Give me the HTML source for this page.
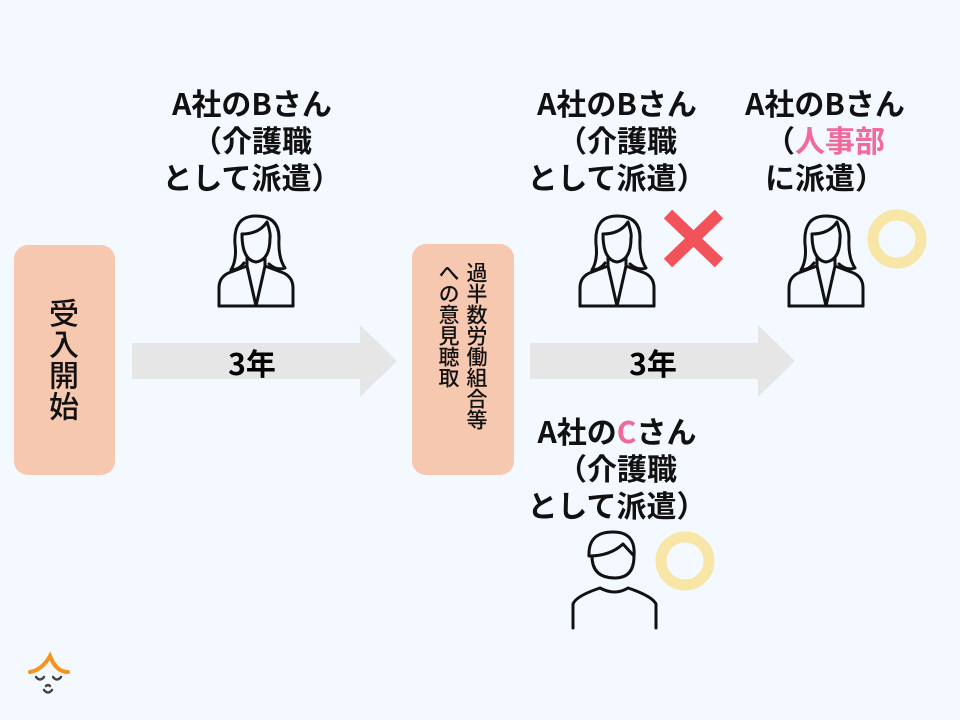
<!DOCTYPE html>
<html><head><meta charset="utf-8"><style>
body{margin:0;width:960px;height:720px;background:#f3f9fe;position:relative;overflow:hidden;font-family:"Noto Sans CJK JP",sans-serif;}
.lbl{position:absolute;text-align:center;font-size:30px;font-weight:700;line-height:37px;color:#111;white-space:nowrap;font-family:"Noto Sans CJK JP",sans-serif;}
.pk{color:#f06a9b}
.box{position:absolute;background:#f7c8b0;border-radius:14px;}
.v{position:absolute;writing-mode:vertical-rl;font-family:"Noto Sans CJK JP",sans-serif;color:#111;font-weight:500;white-space:nowrap;}
.n{position:absolute;font-size:30px;font-weight:700;font-family:"Noto Sans CJK JP",sans-serif;transform:translate(-50%,-50%);}
</style></head><body>
<svg width="960" height="720" style="position:absolute;left:0;top:0">
<polygon points="132,343 360,343 360,325 397,361 360,397 360,379 132,379" fill="#e6e6e6"/>
<polygon points="530,343 758,343 758,325 795,361 758,397 758,379 530,379" fill="#e6e6e6"/>
<defs>
<g id="w" fill="none" stroke="#111" stroke-width="3" stroke-linejoin="round" stroke-linecap="round">
<path d="M2,98 L2,80 Q2,68 14,64 L30,58 L39,98"/>
<path d="M76,98 L76,80 Q76,68 64,64 L48,58 L39,98"/>
<path d="M2,98 L76,98"/>
<path d="M30,50 L30,58 M48,50 L48,58"/>
<path d="M25,26 Q25,52 39,54 Q53,52 53,30"/>
<path d="M25,26 Q42,26 50,14 Q54,26 53,30"/>
<path d="M14,62 Q20,52 18,36 Q16,8 39,8 Q62,8 62,30 Q61,50 68,60 Q60,63 52,56"/>
<path d="M14,62 Q22,62 27,55"/>
</g>
</defs>
<use href="#w" x="217" y="208"/>
<use href="#w" x="578" y="208"/>
<use href="#w" x="787" y="208"/>
<g stroke="#f2535a" stroke-width="12" stroke-linecap="butt"><line x1="668" y1="214" x2="719" y2="263"/><line x1="719" y1="214" x2="668" y2="263"/></g>
<circle cx="897" cy="239" r="24" fill="none" stroke="#f7e6a6" stroke-width="11"/>
<circle cx="685" cy="561" r="24" fill="none" stroke="#f7e6a6" stroke-width="11"/>
<g fill="none" stroke="#111" stroke-width="3" stroke-linejoin="round" stroke-linecap="round">
<path d="M592,556 Q592,578 615,578 Q634,578 634,556"/>
<path d="M589,556 Q588,532 613,532 Q636,532 634,556 L623,544 Q610,556 589,556"/>
<path d="M573,628 L573,604 Q576,596 600,588 Q615,596 628,588 Q652,596 656,604 L656,628"/>
</g>
<g fill="none" stroke-linecap="round">
<path d="M30,672 Q42,670 50,656 Q56,672 68,672" stroke="#f7931e" stroke-width="4"/>
<path d="M36,677 Q40,682 44,677 M53,677 Q57,682 61,677 M44,690 Q48,695 52,690 M46,686 Q48,684 50,686" stroke="#444" stroke-width="2.5"/>
</g>
</svg>
<div class="box" style="left:14px;top:245px;width:101px;height:230px"></div>
<div class="box" style="left:412px;top:244px;width:102px;height:231px"></div>
<div class="v" style="left:47px;top:298px;font-size:30px;line-height:34px;letter-spacing:1px">受入開始</div>
<div class="v" style="left:464px;top:262px;font-size:21px;line-height:26px">過半数労働組合等</div>
<div class="v" style="left:436px;top:262px;font-size:21px;line-height:26px">への意見聴取</div>
<div class="lbl" style="left:132px;top:84px;width:240px">A社のBさん<br>（介護職<br>として派遣）</div>
<div class="lbl" style="left:497px;top:84px;width:240px">A社のBさん<br>（介護職<br>として派遣）</div>
<div class="lbl" style="left:705px;top:84px;width:240px">A社のBさん<br>（<span class="pk">人事部</span><br>に派遣）</div>
<div class="lbl" style="left:497px;top:412px;width:240px">A社の<span class="pk">C</span>さん<br>（介護職<br>として派遣）</div>
<div class="n" style="left:252px;top:362px">3年</div>
<div class="n" style="left:653px;top:362px">3年</div>
</body></html>
